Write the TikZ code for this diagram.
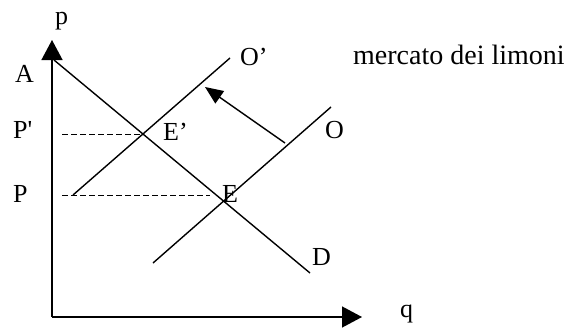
\documentclass[tikz,border=0pt]{standalone}
\usepackage{fontspec}
\setmainfont{Liberation Serif}
\usetikzlibrary{arrows.meta}
\tikzset{
  curve/.style={line width=1.4pt, black},
  axisline/.style={line width=1.4pt, black, -{Triangle[length=20pt,width=21pt]}},
  shiftarrow/.style={line width=1.4pt, black, -{Triangle[length=18pt,width=15pt]}},
  guide/.style={line width=1pt, black, dash pattern=on 6pt off 3pt},
  lbl/.style={inner sep=0pt, anchor=base west, font=\fontsize{26}{26}\selectfont},
  title/.style={inner sep=0pt, anchor=base west, font=\fontsize{28}{28}\selectfont}
}
\begin{document}
\begin{tikzpicture}[x=1pt,y=-1pt]
\useasboundingbox (0,0) rectangle (564,329);
% key points
\coordinate (orig) at (52,317);
\coordinate (ytip) at (52,40);
\coordinate (xtip) at (362,317);
\coordinate (d1) at (54,60);
\coordinate (d2) at (310,273);
\coordinate (o1) at (153,263);
\coordinate (o2) at (331,107);
\coordinate (oo1) at (73,195);
\coordinate (oo2) at (230,58);
\coordinate (ppl) at (62,134);
\coordinate (ppr) at (143,134);
\coordinate (pl) at (62,195);
\coordinate (pr) at (210,195);
\coordinate (sa) at (285,143);
\coordinate (sb) at (205,87);
% axes
\draw[axisline] (orig) -- (ytip);
\draw[axisline] (orig) -- (xtip);
% curves
\draw[curve] (d1) -- (d2);
\draw[curve] (o1) -- (o2);
\draw[curve] (oo1) -- (oo2);
% guides
\draw[guide] (ppl) -- (ppr);
\draw[guide] (pl) -- (pr);
% shift
\draw[shiftarrow] (sa) -- (sb);
% labels
\node[lbl] (lp) at (55,25) {p};
\node[lbl] (lA) at (15,82) {A};
\node[lbl] (lPp) at (13,138) {P\textquotesingle};
\node[lbl] (lP) at (13,202) {P};
\node[lbl] (lEp) at (163,140) {E’};
\node[lbl] (lOp) at (240,65) {O’};
\node[lbl] (lO) at (325,138) {O};
\node[lbl] (lE) at (222,202) {E};
\node[lbl] (lD) at (312,265) {D};
\node[lbl] (lq) at (400,317) {q};
\node[title] (ttl) at (353,64) {mercato dei limoni};
\end{tikzpicture}
\end{document}
